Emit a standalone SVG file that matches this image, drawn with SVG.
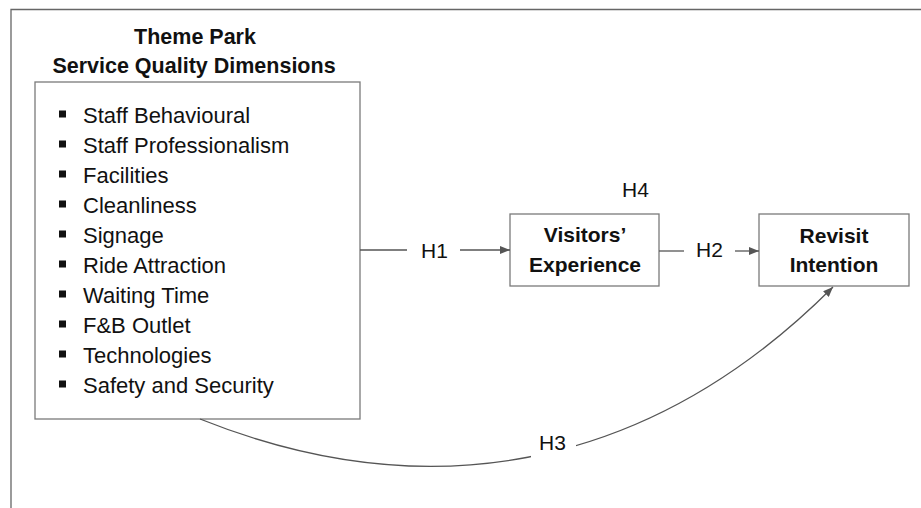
<svg xmlns="http://www.w3.org/2000/svg" width="921" height="508" viewBox="0 0 921 508">
<style>
.box{fill:#fff;stroke:#7a7a7a;stroke-width:1.3}
.t{font-family:"Liberation Sans",Arial,sans-serif;font-size:21px;fill:#111}
.li{font-family:"Liberation Sans",Arial,sans-serif;font-size:22px;fill:#111}
.b{font-family:"Liberation Sans",Arial,sans-serif;font-size:21px;font-weight:bold;fill:#111}
.ti{font-family:"Liberation Sans",Arial,sans-serif;font-size:21.5px;font-weight:bold;fill:#111}
.c{stroke:#555;stroke-width:1.3;fill:none}
.bul{fill:#111}
</style>
<defs>
<marker id="ah" markerUnits="userSpaceOnUse" markerWidth="10" markerHeight="8" refX="10" refY="4" orient="auto">
<path d="M0,0 L10,4 L0,8 z" fill="#555"/>
</marker>
</defs>
<rect x="0" y="0" width="921" height="508" fill="#fff"/>
<path d="M11,508 V9.5 H921" fill="none" stroke="#666" stroke-width="1.3"/>

<g id="sq">
<text class="ti" x="195" y="44" text-anchor="middle">Theme Park</text>
<text class="ti" x="194" y="73" text-anchor="middle">Service Quality Dimensions</text>
<rect class="box" x="35" y="82" width="325" height="337"/>
<g class="bul">
<rect x="59" y="110.5" width="7" height="7"/>
<rect x="59" y="140.5" width="7" height="7"/>
<rect x="59" y="170.5" width="7" height="7"/>
<rect x="59" y="200.5" width="7" height="7"/>
<rect x="59" y="230.5" width="7" height="7"/>
<rect x="59" y="260.5" width="7" height="7"/>
<rect x="59" y="290.5" width="7" height="7"/>
<rect x="59" y="320.5" width="7" height="7"/>
<rect x="59" y="350.5" width="7" height="7"/>
<rect x="59" y="380.5" width="7" height="7"/>
</g>
<text class="li" x="83" y="123">Staff Behavioural</text>
<text class="li" x="83" y="153">Staff Professionalism</text>
<text class="li" x="83" y="183">Facilities</text>
<text class="li" x="83" y="213">Cleanliness</text>
<text class="li" x="83" y="243">Signage</text>
<text class="li" x="83" y="273">Ride Attraction</text>
<text class="li" x="83" y="303">Waiting Time</text>
<text class="li" x="83" y="333">F&amp;B Outlet</text>
<text class="li" x="83" y="363">Technologies</text>
<text class="li" x="83" y="393">Safety and Security</text>
</g>

<g id="ve">
<rect class="box" x="510" y="214" width="149" height="72"/>
<text class="b" x="585" y="242" text-anchor="middle">Visitors’</text>
<text class="b" x="585" y="272" text-anchor="middle">Experience</text>
</g>

<g id="ri">
<rect class="box" x="759" y="214" width="150" height="72"/>
<text class="b" x="834" y="243" text-anchor="middle">Revisit</text>
<text class="b" x="834" y="272" text-anchor="middle">Intention</text>
</g>

<g id="connectors">
<line class="c" x1="360" y1="250" x2="407" y2="250"/>
<line class="c" x1="460" y1="250" x2="510" y2="250" marker-end="url(#ah)"/>
<line class="c" x1="659" y1="251" x2="684" y2="251"/>
<line class="c" x1="735" y1="251" x2="759" y2="251" marker-end="url(#ah)"/>
<path class="c" d="M200,419 C420,507 643,477 833,287" marker-end="url(#ah)"/>
<rect x="531" y="428" width="45" height="32" fill="#fff"/>
<text class="t" x="421" y="258">H1</text>
<text class="t" x="696" y="257">H2</text>
<text class="t" x="539" y="450">H3</text>
<text class="t" x="622" y="197">H4</text>
</g>
</svg>
